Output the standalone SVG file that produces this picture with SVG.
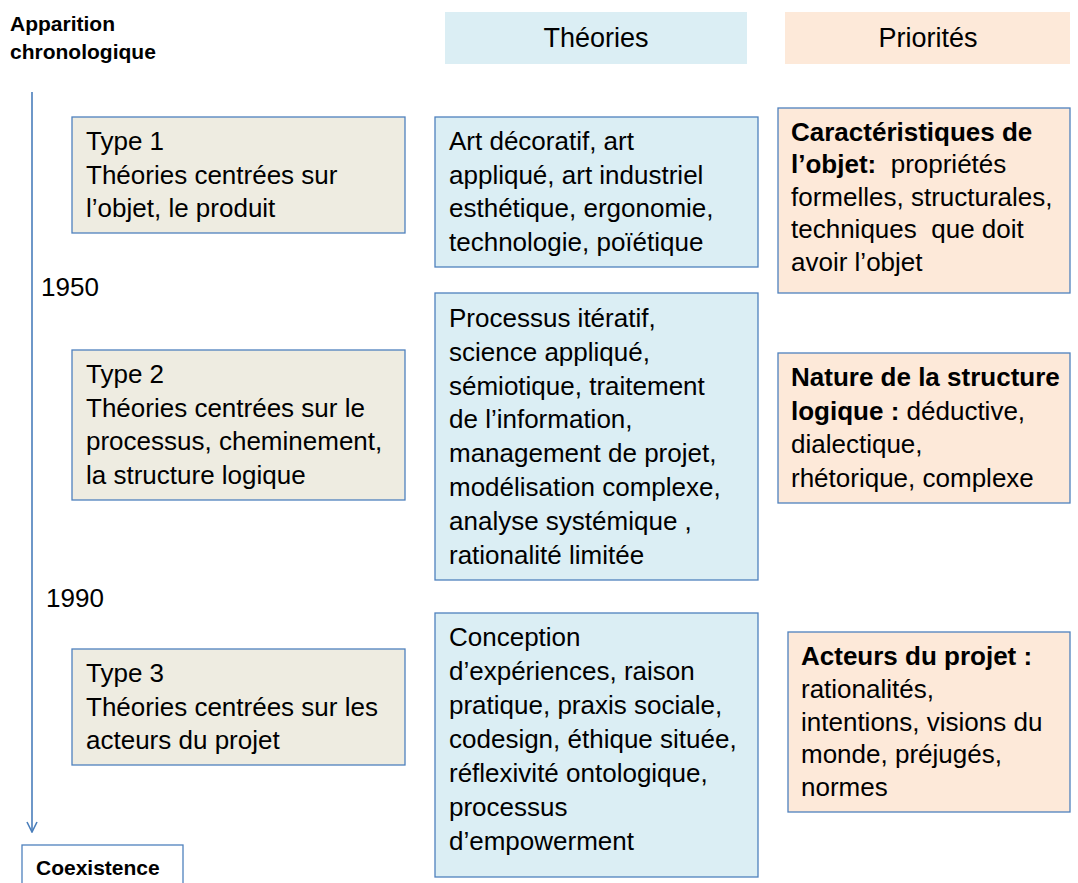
<svg xmlns="http://www.w3.org/2000/svg" width="1078" height="883" viewBox="0 0 1078 883">
<style>
text{font-family:"Liberation Sans",Arial,sans-serif;fill:#000;}
.t{font-size:26px;}
.lbl{font-size:21px;font-weight:bold;}
.b{font-weight:bold;}
.hdr{font-size:27px;text-anchor:middle;}
.beige{fill:#EEECE1;stroke:#4F81BD;stroke-width:1.3;}
.blue{fill:#DBEEF4;stroke:#4F81BD;stroke-width:1.3;}
.peach{fill:#FDE9D9;stroke:#4F81BD;stroke-width:1.3;}
.hblue{fill:#DBEEF4;}
.hpeach{fill:#FDE9D9;}
.white{fill:#FFFFFF;stroke:#4F81BD;stroke-width:1.3;}
</style>
<defs>
<marker id="arr" viewBox="0 0 12 12" refX="11" refY="6" markerWidth="12" markerHeight="12" markerUnits="userSpaceOnUse" orient="auto">
<path d="M1,1 L11,6 L1,11" fill="none" stroke="#4A7EBB" stroke-width="1.6"/>
</marker>
</defs>
<rect width="1078" height="883" fill="#FFFFFF"/>

<g id="connectors">
<line x1="32" y1="92" x2="32" y2="832" stroke="#4A7EBB" stroke-width="1.6" marker-end="url(#arr)"/>
</g>

<g id="label-apparition">
<text class="lbl" x="10" y="31">Apparition</text>
<text class="lbl" x="10" y="59">chronologique</text>
</g>
<g id="label-1950"><text class="t" x="41" y="296">1950</text></g>
<g id="label-1990"><text class="t" x="46" y="607">1990</text></g>

<g id="header-theories">
<rect class="hblue" x="445" y="12" width="302" height="52"/>
<text class="hdr" x="596" y="47">Théories</text>
</g>
<g id="header-priorites">
<rect class="hpeach" x="785" y="12" width="285" height="52"/>
<text class="hdr" x="928" y="47">Priorités</text>
</g>

<g id="type1">
<rect class="beige" x="72" y="117" width="333" height="116"/>
<text class="t"><tspan x="86" y="150">Type 1</tspan><tspan x="86" y="183.6">Théories centrées sur</tspan><tspan x="86" y="217.2">l’objet, le produit</tspan></text>
</g>
<g id="type2">
<rect class="beige" x="72" y="350" width="333" height="150"/>
<text class="t"><tspan x="86" y="383">Type 2</tspan><tspan x="86" y="416.6">Théories centrées sur le</tspan><tspan x="86" y="450.2">processus, cheminement,</tspan><tspan x="86" y="483.8">la structure logique</tspan></text>
</g>
<g id="type3">
<rect class="beige" x="72" y="649" width="333" height="116"/>
<text class="t"><tspan x="86" y="682">Type 3</tspan><tspan x="86" y="715.6">Théories centrées sur les</tspan><tspan x="86" y="749.2">acteurs du projet</tspan></text>
</g>

<g id="theorie1">
<rect class="blue" x="435" y="117" width="323" height="150"/>
<text class="t"><tspan x="449" y="150">Art décoratif, art</tspan><tspan x="449" y="183.6">appliqué, art industriel</tspan><tspan x="449" y="217.2">esthétique, ergonomie,</tspan><tspan x="449" y="250.8">technologie, poïétique</tspan></text>
</g>
<g id="theorie2">
<rect class="blue" x="435" y="293" width="323" height="287"/>
<text class="t"><tspan x="449" y="327">Processus itératif,</tspan><tspan x="449" y="360.8">science appliqué,</tspan><tspan x="449" y="394.6">sémiotique, traitement</tspan><tspan x="449" y="428.4">de l’information,</tspan><tspan x="449" y="462.2">management de projet,</tspan><tspan x="449" y="496">modélisation complexe,</tspan><tspan x="449" y="529.8">analyse systémique ,</tspan><tspan x="449" y="563.6">rationalité limitée</tspan></text>
</g>
<g id="theorie3">
<rect class="blue" x="435" y="613" width="323" height="264"/>
<text class="t"><tspan x="449" y="646">Conception</tspan><tspan x="449" y="680">d’expériences, raison</tspan><tspan x="449" y="714">pratique, praxis sociale,</tspan><tspan x="449" y="748">codesign, éthique située,</tspan><tspan x="449" y="782">réflexivité ontologique,</tspan><tspan x="449" y="816">processus</tspan><tspan x="449" y="850">d’empowerment</tspan></text>
</g>

<g id="priorite1">
<rect class="peach" x="778" y="108" width="292" height="185"/>
<text class="t"><tspan x="791" y="141" class="b">Caractéristiques de</tspan><tspan x="791" y="173.4" class="b">l’objet:</tspan><tspan xml:space="preserve">  propriétés</tspan><tspan x="791" y="205.8">formelles, structurales,</tspan><tspan x="791" y="238.2" xml:space="preserve">techniques  que doit</tspan><tspan x="791" y="270.6">avoir l’objet</tspan></text>
</g>
<g id="priorite2">
<rect class="peach" x="778" y="353" width="292" height="150"/>
<text class="t"><tspan x="791" y="386" class="b">Nature de la structure</tspan><tspan x="791" y="419.6" class="b">logique :</tspan><tspan> déductive,</tspan><tspan x="791" y="453.2">dialectique,</tspan><tspan x="791" y="486.8">rhétorique, complexe</tspan></text>
</g>
<g id="priorite3">
<rect class="peach" x="788" y="632" width="282" height="180"/>
<text class="t"><tspan x="801" y="665" class="b">Acteurs du projet :</tspan><tspan x="801" y="697.8">rationalités,</tspan><tspan x="801" y="730.6">intentions, visions du</tspan><tspan x="801" y="763.4">monde, préjugés,</tspan><tspan x="801" y="796.2">normes</tspan></text>
</g>

<g id="coexistence">
<rect class="white" x="22" y="845" width="161" height="50"/>
<text class="lbl" x="36" y="875">Coexistence</text>
</g>
</svg>
